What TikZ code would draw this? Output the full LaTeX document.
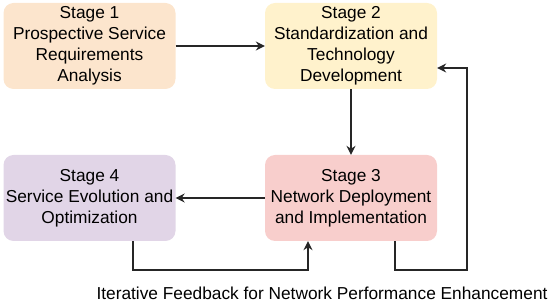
\documentclass[tikz,border=0pt]{standalone}
\usepackage{fontspec}
\setmainfont{Liberation Sans}
\usetikzlibrary{arrows.meta}
\definecolor{c1}{HTML}{FCE5CD}
\definecolor{c2}{HTML}{FFF2CC}
\definecolor{c3}{HTML}{F8CECC}
\definecolor{c4}{HTML}{E1D5E7}
\tikzset{
  stagebox/.style={rounded corners=10pt, minimum width=172pt, minimum height=86pt, align=center, inner sep=0pt, font=\fontsize{17.3}{21}\selectfont},
  conn/.style={line width=1.2pt, draw=black!85, -{Stealth[length=9pt,width=9pt,inset=3pt]}},
}
\begin{document}
\begin{tikzpicture}[x=1pt,y=-1pt]
\useasboundingbox (0,0) rectangle (550,304);
\node[stagebox, fill=c1] (s1) at (89.5,46) {Stage 1\\Prospective Service\\Requirements\\Analysis};
\node[stagebox, fill=c2] (s2) at (351,46) {Stage 2\\Standardization and\\Technology\\Development};
\node[stagebox, fill=c3] (s3) at (351,198) {Stage 3\\Network Deployment\\and Implementation};
\node[stagebox, fill=c4] (s4) at (89.5,198) {Stage 4\\Service Evolution and\\Optimization};
\node[font=\fontsize{17.3}{21}\selectfont] (fb) at (322,293) {Iterative Feedback for Network Performance Enhancement};
\coordinate (a) at (133,270);
\coordinate (b) at (308,270);
\coordinate (c) at (395,270);
\coordinate (d) at (467,270);
\coordinate (e) at (467,68);
\draw[conn] (s1) -- (s2);
\draw[conn] (s2) -- (s3);
\draw[conn] (s3) -- (s4);
\draw[conn] (s4.south -| a) -- (a) -- (b) -- (s3.south -| b);
\draw[conn] (s3.south -| c) -- (c) -- (d) -- (e) -- (s2.east |- e);
\end{tikzpicture}
\end{document}
